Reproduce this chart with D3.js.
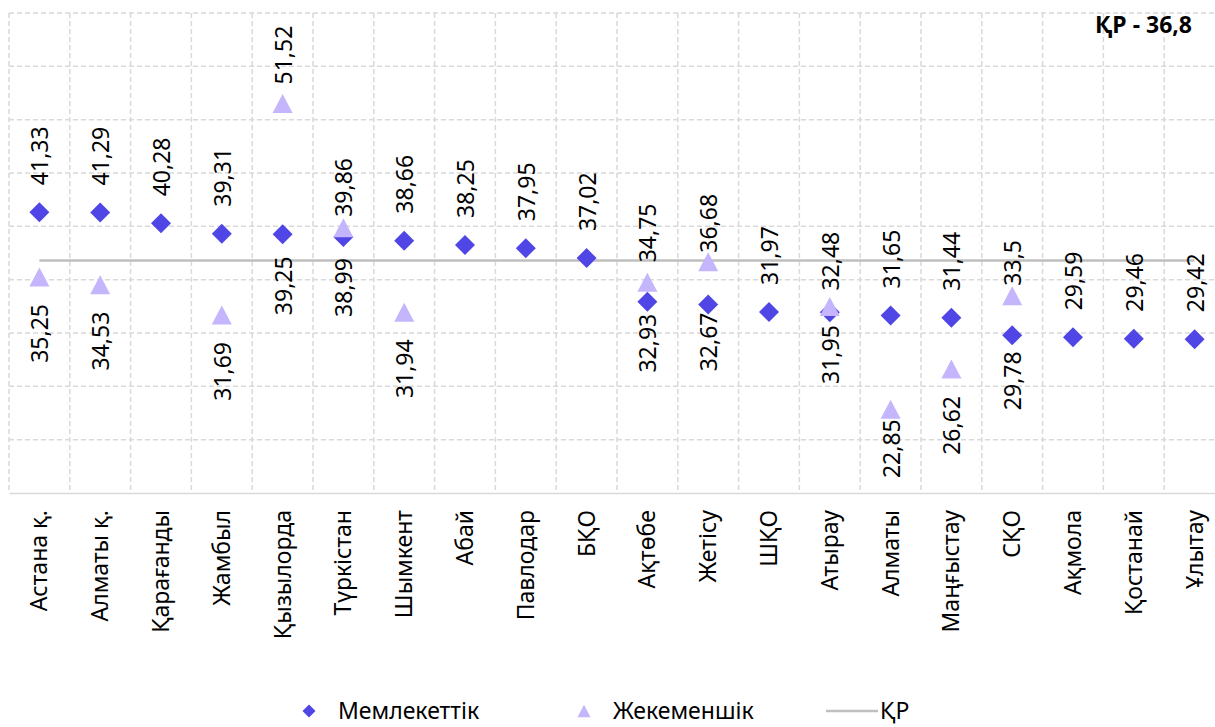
<!DOCTYPE html>
<html>
<head>
<meta charset="utf-8">
<script src="https://cdn.jsdelivr.net/npm/d3@7"></script>
<style>
  html, body { margin: 0; padding: 0; background: #fff; }
  svg { display: block; font-family: "Noto Sans", "Open Sans", sans-serif; }
</style>
</head>
<body>
<svg id="chart" width="1215" height="727"></svg>
<script>
// data
const categories = ["Астана қ.", "Алматы қ.", "Қарағанды", "Жамбыл", "Қызылорда", "Түркістан", "Шымкент",
  "Абай", "Павлодар", "БҚО", "Ақтөбе", "Жетісу", "ШҚО", "Атырау", "Алматы", "Маңғыстау", "СҚО",
  "Ақмола", "Қостанай", "Ұлытау"];
const stateValues = [41.33, 41.29, 40.28, 39.31, 39.25, 38.99, 38.66, 38.25, 37.95, 37.02, 32.93, 32.67,
  31.97, 31.95, 31.65, 31.44, 29.78, 29.59, 29.46, 29.42];
const privateValues = [35.25, 34.53, null, 31.69, 51.52, 39.86, 31.94, null, null, null, 34.75, 36.68,
  null, 32.48, 22.85, 26.62, 33.5, null, null, null];
const kzValue = 36.8;
const yTicks = [15, 20, 25, 30, 35, 40, 45, 50, 55, 60];
const seriesNames = ["Мемлекеттік", "Жекеменшік", "ҚР"];

// label spacing (px from marker centre to text), a few were nudged by hand in the original
const defaultGap = 27;
const stateGap = {"Қызылорда": 22, "Түркістан": 21, "Ақтөбе": 12, "Жетісу": 8, "Атырау": 13, "СҚО": 16};
const privateGap = {"Қызылорда": 19, "Түркістан": 11, "Ақтөбе": 20, "Жетісу": 9, "Атырау": 16, "СҚО": 10, "Алматы": 10};

const colState = "#4F46E5";
const colPrivate = "#C4B5FD";
const colLine = "#BFBFBF";
const colGrid = "#D9D9D9";
const fontSize = 23;

const margin = {top: 13, left: 9};
const plotW = 1216, plotH = 480;

const svg = d3.select("#chart");
const g = svg.append("g");

const x = d3.scaleBand().domain(categories).range([margin.left, margin.left + plotW]).paddingInner(0).paddingOuter(0);
const y = d3.scaleLinear().domain([15, 60]).range([margin.top + plotH, margin.top]);
const cx = d => x(d) + x.bandwidth() / 2;

// custom symbols like excel's
const diamondSym = {draw(ctx, size) { const r = Math.sqrt(size) / 2;
  ctx.moveTo(0, -r); ctx.lineTo(r, 0); ctx.lineTo(0, r); ctx.lineTo(-r, 0); ctx.closePath(); }};
const triangleSym = {draw(ctx, size) { const w = Math.sqrt(size) / 2, h = w * 0.95;
  ctx.moveTo(0, -h); ctx.lineTo(w, h); ctx.lineTo(-w, h); ctx.closePath(); }};

// gridlines
g.append("g").selectAll("line").data(yTicks.slice(1))
  .enter().append("line")
  .attr("x1", margin.left).attr("x2", margin.left + plotW)
  .attr("y1", d => y(d)).attr("y2", d => y(d))
  .attr("stroke", colGrid).attr("stroke-width", 1.5).attr("stroke-dasharray", "5,3");

const vx = categories.map(c => x(c));
g.append("g").selectAll("line").data(vx)
  .enter().append("line")
  .attr("x1", d => d).attr("x2", d => d)
  .attr("y1", margin.top).attr("y2", margin.top + plotH)
  .attr("stroke", colGrid).attr("stroke-width", 1.5).attr("stroke-dasharray", "5,3");

// x axis
const xAxis = g.append("g")
  .attr("transform", "translate(0," + (margin.top + plotH) + ")")
  .call(d3.axisBottom(x).tickSize(0).tickPadding(0));
xAxis.select(".domain").attr("stroke", colGrid).attr("stroke-width", 1.5);
xAxis.selectAll(".tick text")
  .attr("font-size", fontSize + "px")
  .attr("fill", "#000")
  .attr("font-family", "'Noto Sans', sans-serif")
  .attr("text-anchor", "end")
  .attr("transform", "translate(0,17) rotate(-90)")
  .attr("dy", "0.35em").attr("y", 0).attr("x", 0);

// country line
g.append("path")
  .datum(categories)
  .attr("fill", "none").attr("stroke", colLine).attr("stroke-width", 2.5)
  .attr("d", d3.line().x(d => cx(d)).y(() => y(kzValue)));

// markers
const pts = categories.map((c, i) => ({c, s: stateValues[i], p: privateValues[i]}));

g.append("g").selectAll("path").data(pts)
  .enter().append("path")
  .attr("transform", d => "translate(" + cx(d.c) + "," + y(d.s) + ")")
  .attr("d", d3.symbol().type(diamondSym).size(400))
  .attr("fill", colState);

g.append("g").selectAll("path").data(pts.filter(d => d.p != null))
  .enter().append("path")
  .attr("transform", d => "translate(" + cx(d.c) + "," + y(d.p) + ")")
  .attr("d", d3.symbol().type(triangleSym).size(400))
  .attr("fill", colPrivate);

// data labels
const fmt = v => String(v).replace(".", ",");
function label(d, v, above, gap) {
  const yy = above ? y(v) - gap : y(v) + gap;
  g.append("text")
    .attr("transform", "translate(" + (cx(d.c) + 1) + "," + yy + ") rotate(-90)")
    .attr("text-anchor", above ? "start" : "end")
    .attr("dy", "0.35em")
    .attr("font-size", fontSize + "px")
    .attr("fill", "#000")
    .text(fmt(v));
}
pts.forEach(d => {
  const privHigher = d.p != null && d.p > d.s;
  label(d, d.s, !privHigher, stateGap[d.c] != null ? stateGap[d.c] : defaultGap);
  if (d.p != null) label(d, d.p, privHigher, privateGap[d.c] != null ? privateGap[d.c] : defaultGap);
});

// title
svg.append("text")
  .attr("x", 1192).attr("y", 33)
  .attr("text-anchor", "end")
  .attr("font-size", fontSize + "px").attr("font-weight", "bold")
  .text("ҚР - " + fmt(kzValue));

// legend
const leg = svg.append("g").attr("transform", "translate(0,711)");
leg.append("path").attr("transform", "translate(309,0)")
  .attr("d", d3.symbol().type(diamondSym).size(169)).attr("fill", colState);
leg.append("text").attr("x", 338).attr("dy", "0.35em").attr("font-size", fontSize + "px").text(seriesNames[0]);
leg.append("path").attr("transform", "translate(584,0)")
  .attr("d", d3.symbol().type(triangleSym).size(169)).attr("fill", colPrivate);
leg.append("text").attr("x", 613).attr("dy", "0.35em").attr("font-size", fontSize + "px").text(seriesNames[1]);
leg.append("line").attr("x1", 826).attr("x2", 878).attr("y1", 0).attr("y2", 0)
  .attr("stroke", colLine).attr("stroke-width", 2.5);
leg.append("text").attr("x", 880).attr("dy", "0.35em").attr("font-size", fontSize + "px").text(seriesNames[2]);
</script>
</body>
</html>
